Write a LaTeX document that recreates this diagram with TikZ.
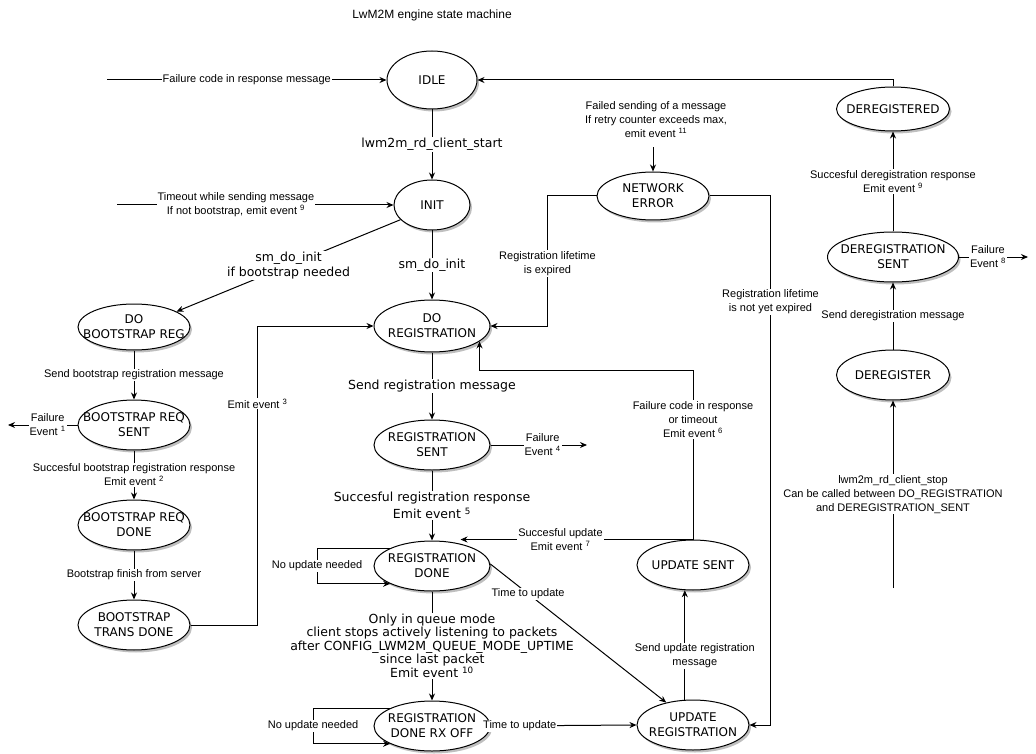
\documentclass[tikz,border=0pt]{standalone}
\usepackage{fontspec}
\setmainfont{Liberation Sans}
\newfontfamily\statefont{DejaVu Sans}
\usepackage{tikz}
\usetikzlibrary{arrows.meta,shapes.geometric,shadows}

\tikzset{
  smstate/.style={ellipse, draw, fill=white, line width=1pt, inner sep=0pt,
    minimum width=112pt, minimum height=50pt,
    drop shadow={shadow xshift=2pt, shadow yshift=-2.5pt, fill=black!25, opacity=1}},
  stxt/.style={font={\statefont\fontsize{12}{15}\selectfont}, align=center, inner sep=0pt},
  lbl/.style={font={\fontsize{11}{14}\selectfont}, fill=white, inner sep=1pt, align=center},
  biglbl/.style={font={\statefont\fontsize{12.5}{14.5}\selectfont}, fill=white, inner sep=1pt, align=center},
  arr/.style={-{Stealth[length=7pt,width=6pt]}, line width=1pt},
}

\begin{document}
\begin{tikzpicture}[x=1pt,y=-1pt]
            \useasboundingbox (0,0) rectangle (1036,754);
            \node[font={\fontsize{12}{14}\selectfont}] (title) at (432,15) {LwM2M engine state machine};

            \node[smstate, minimum width=90pt, minimum height=58pt, label={[stxt]center:IDLE}] (idle) at (432,80) {};
            \node[smstate, minimum width=76pt, label={[stxt]center:INIT}] (init) at (432,205) {};
            \node[smstate, minimum width=116pt, minimum height=52pt, label={[stxt]center:{DO\\REGISTRATION}}] (doreg) at (432,326) {};
            \node[smstate, minimum width=116pt, label={[stxt]center:{REGISTRATION\\SENT}}] (regsent) at (432,445) {};
            \node[smstate, minimum width=116pt, label={[stxt]center:{REGISTRATION\\DONE}}] (regdone) at (432,566) {};
            \node[smstate, minimum width=116pt, label={[stxt]center:{REGISTRATION\\DONE RX OFF}}] (rxoff) at (432,726) {};

            \node[smstate, minimum height=46pt, label={[stxt]center:{DO\\BOOTSTRAP REG}}] (bsreg) at (134,327) {};
            \node[smstate, label={[stxt]center:{BOOTSTRAP REQ\\SENT}}] (bssent) at (134,425) {};
            \node[smstate, label={[stxt]center:{BOOTSTRAP REQ\\DONE}}] (bsdone) at (134,525) {};
            \node[smstate, label={[stxt]center:{BOOTSTRAP\\TRANS DONE}}] (bstrans) at (134,625) {};

            \node[smstate, minimum height=48pt, label={[stxt]center:{NETWORK\\ERROR}}] (neterr) at (653,196) {};
            \node[smstate, label={[stxt]center:UPDATE SENT}] (updsent) at (693,565) {};
            \node[smstate, label={[stxt]center:{UPDATE\\REGISTRATION}}] (updreg) at (693,725) {};

            \node[smstate, minimum width=113pt, minimum height=44pt, label={[stxt]center:DEREGISTERED}] (deregd) at (893,109) {};
            \node[smstate, minimum width=131pt, label={[stxt]center:{DEREGISTRATION\\SENT}}] (deregsent) at (893,257) {};
            \node[smstate, minimum width=113pt, label={[stxt]center:DEREGISTER}] (dereg) at (893,375) {};

            \coordinate (failin) at (107,80);
            \coordinate (timeoutin) at (117,205);
            \coordinate (bsfail) at (8,425);
            \coordinate (regfail) at (587,445);
            \coordinate (deregfail) at (1028,257);
            \coordinate (stopin) at (893,588);

            \draw[arr] (failin) -- node[lbl] {Failure code in response message} (idle.west);
            \draw[arr] (timeoutin) -- node[lbl, pos=.43] {Timeout while sending message\\If not bootstrap, emit event \textsuperscript{9}} (init.west);
            \draw[arr] (deregd.north) |- (idle.east);
            \draw[arr] (idle) -- node[biglbl] {lwm2m\_rd\_client\_start} (init);
            \draw[arr] (init.205) -- node[biglbl] {sm\_do\_init\\if bootstrap needed} (bsreg.20);
            \draw[arr] (init) -- node[biglbl] {sm\_do\_init} (doreg);

            \draw[arr] (bsreg) -- node[lbl] {Send bootstrap registration message} (bssent);
            \draw[arr] (bssent.west) -- node[lbl, pos=.43] {Failure\\Event \textsuperscript{1}} (bsfail);
            \draw[arr] (bssent) -- node[lbl] {Succesful bootstrap registration response\\Emit event \textsuperscript{2}} (bsdone);
            \draw[arr] (bsdone) -- node[lbl] {Bootstrap finish from server} (bstrans);
            \draw[arr] (bstrans.east) -- ++(67,0) |- node[lbl, pos=.37] {Emit event \textsuperscript{3}} (doreg.west);

            \draw[arr] (doreg) -- node[biglbl] {Send registration message} (regsent);
            \draw[arr] (regsent.east) -- node[lbl, pos=.54] {Failure\\Event \textsuperscript{4}} (regfail);
            \draw[arr] (regsent) -- node[biglbl] {Succesful registration response\\[3pt]Emit event \textsuperscript{5}} (regdone);
            \draw[arr] (regdone.157) -- ++(-73,0) |- node[lbl, pos=.25] {No update needed} (regdone.203);
            \draw[arr] (regdone) -- node[biglbl, font={\statefont\fontsize{12.5}{13.3}\selectfont}] {Only in queue mode\\client stops actively listening to packets\\after CONFIG\_LWM2M\_QUEUE\_MODE\_UPTIME\\since last packet\\Emit event \textsuperscript{10}} (rxoff);
            \draw[arr] (rxoff.157) -- ++(-77,0) |- node[lbl, pos=.25] {No update needed} (rxoff.203);
            \draw[arr] (regdone.2) -- node[lbl, pos=.215] {Time to update} (updreg.140);
            \draw[arr] (rxoff.east) -- node[lbl, pos=.2] {Time to update} (updreg.west);

            \draw[arr] (updreg.108) -- node[lbl, pos=.4, xshift=10pt] {Send update registration\\message} (updsent.252);
            \draw[arr] (updsent.north) -- node[lbl, pos=.57] {Succesful update\\Emit event \textsuperscript{7}} (updsent.north -| regdone.38);
            \draw[arr] (updsent.north) -- node[lbl, pos=.71] {Failure code in response\\or timeout\\Emit event \textsuperscript{6}} ++(0,-169) -| (doreg.-18);

            \node[lbl] (neterrtxt) at (656,120) {Failed sending of a message\\If retry counter exceeds max,\\emit event \textsuperscript{11}};
            \draw[arr, shorten <=8pt] (neterrtxt.south -| neterr.north) -- (neterr.north);
            \draw[arr] (neterr.west) -- ++(-49,0) |- node[lbl, pos=.26] {Registration lifetime\\is expired} (doreg.east);
            \draw[arr] (neterr.east) -- ++(61,0) |- node[lbl, pos=.1] {Registration lifetime\\is not yet expired} (updreg.east);

            \draw[arr] (deregsent) -- node[lbl] {Succesful deregistration response\\Emit event \textsuperscript{9}} (deregd);
            \draw[arr] (deregsent.east) -- node[lbl, pos=.42] {Failure\\Event \textsuperscript{8}} (deregfail);
            \draw[arr] (dereg) -- node[lbl] {Send deregistration message} (deregsent);
            \draw[arr] (stopin) -- node[lbl] {lwm2m\_rd\_client\_stop\\Can be called between DO\_REGISTRATION\\and DEREGISTRATION\_SENT} (dereg);
        \end{tikzpicture}
\end{document}
